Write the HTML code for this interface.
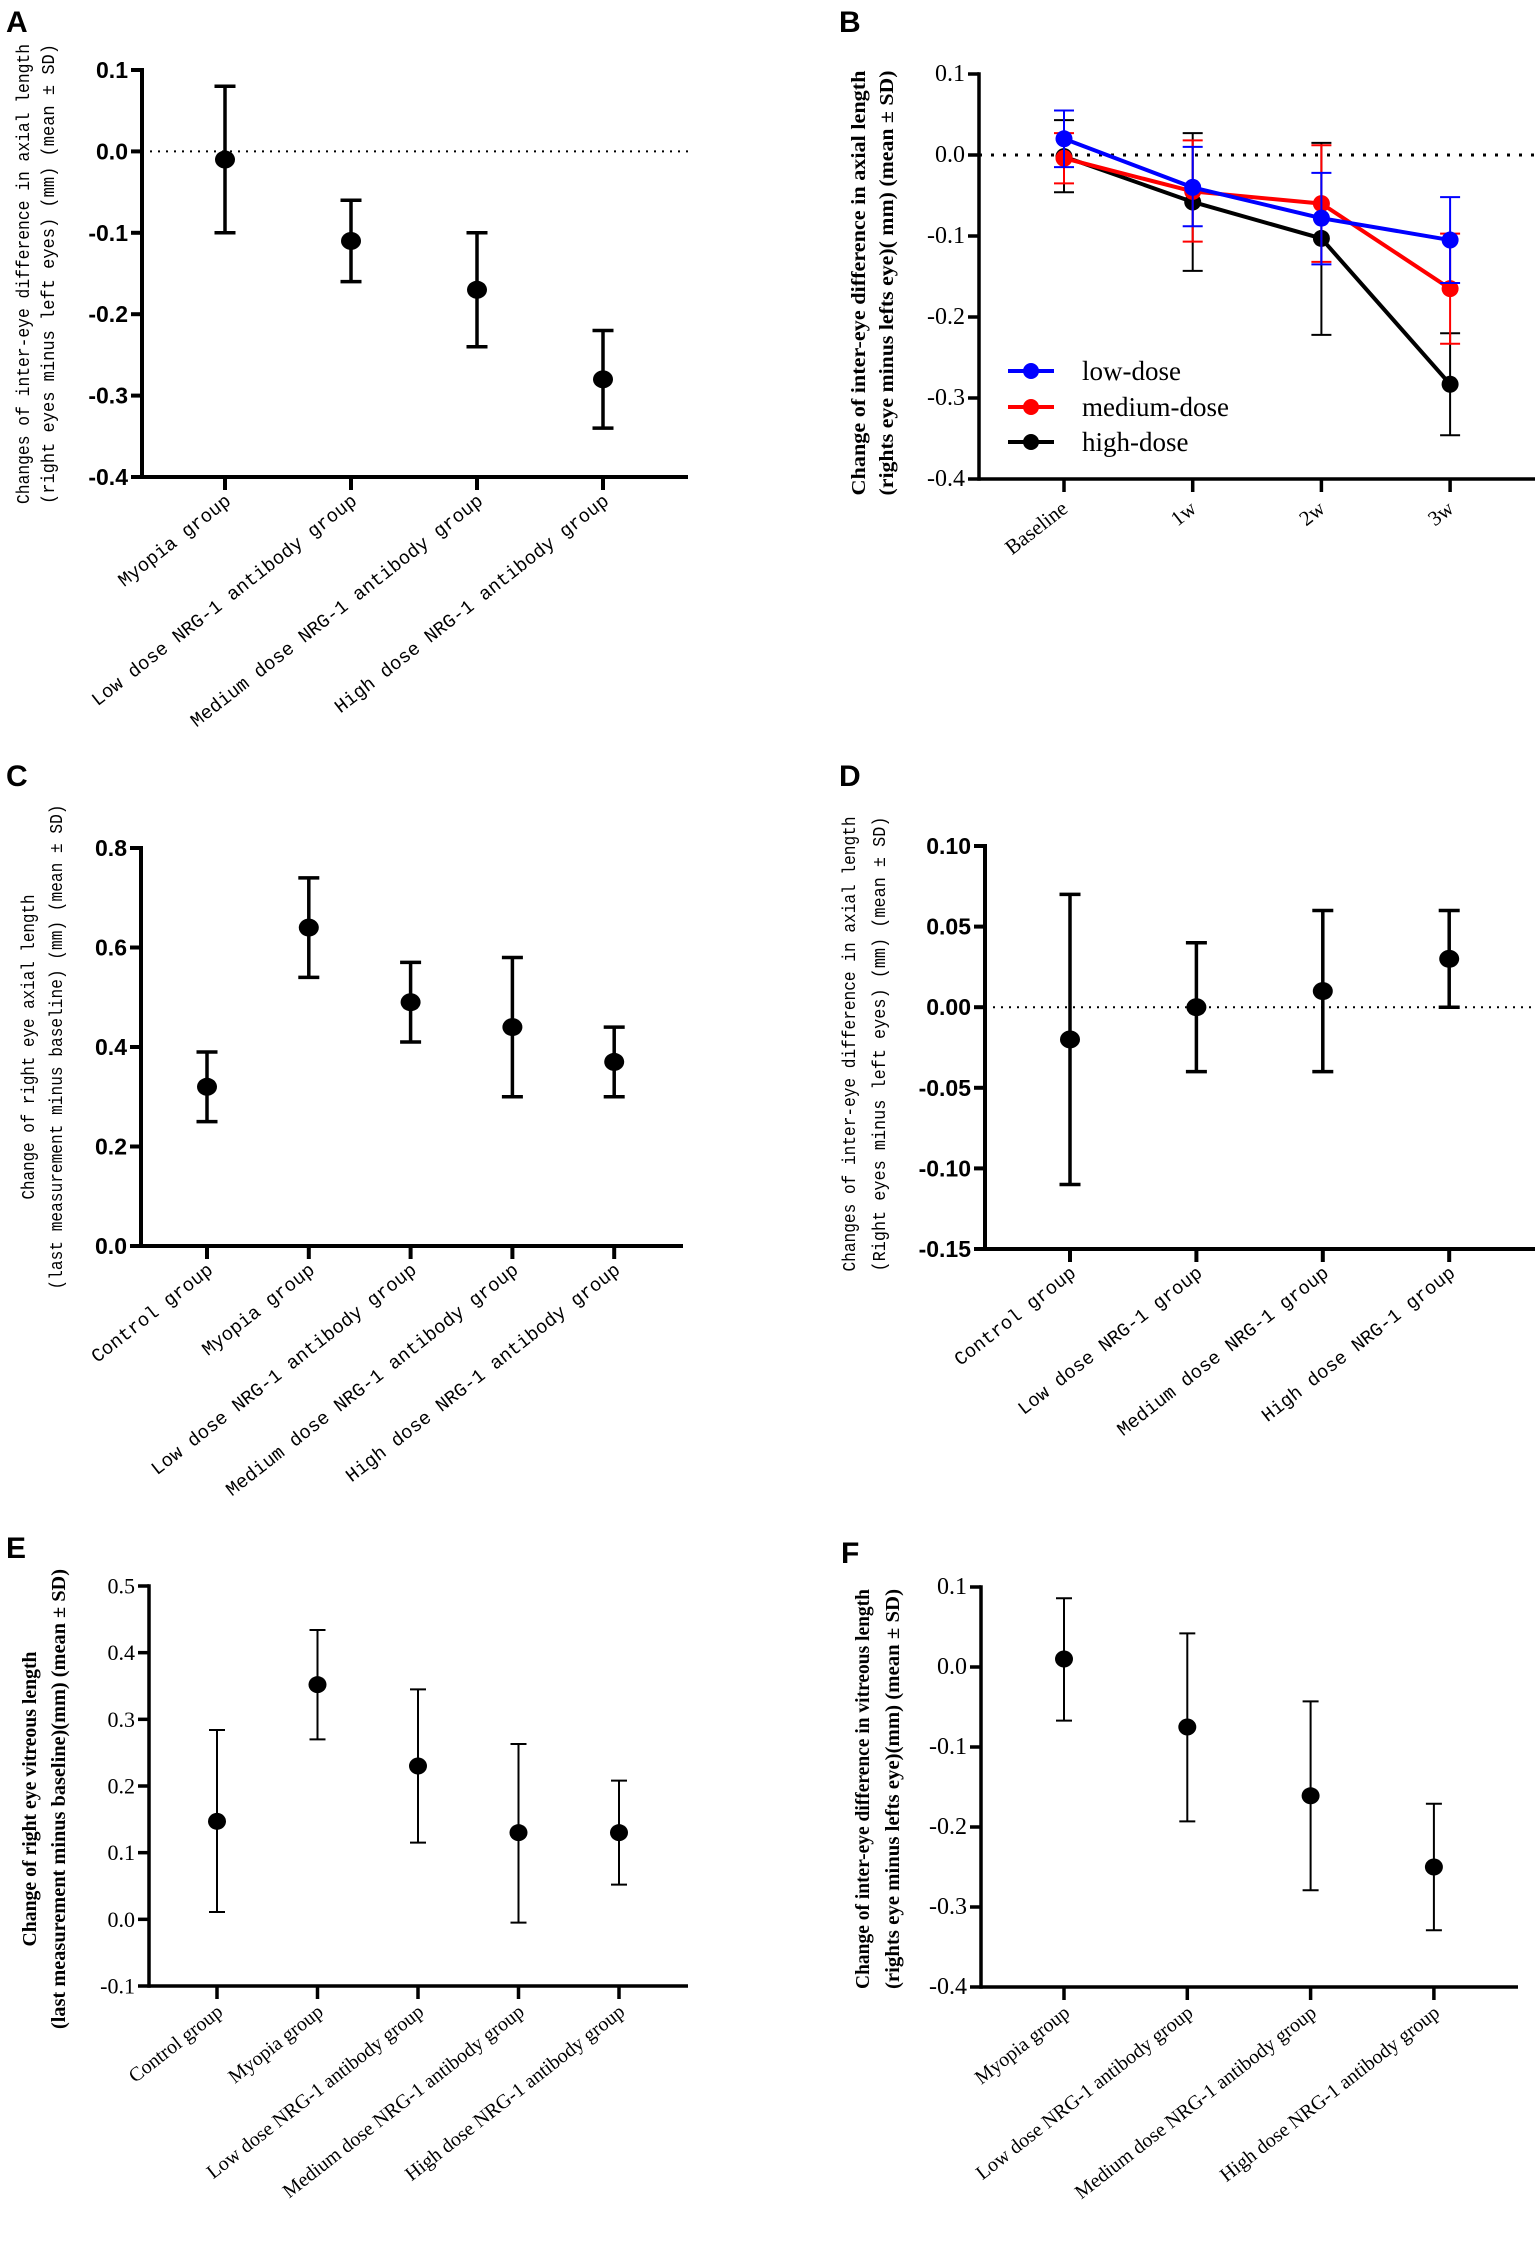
<!DOCTYPE html>
<html><head><meta charset="utf-8"><style>
html,body{margin:0;padding:0;background:#fff}
svg{display:block}
</style></head><body>
<svg id="fig" width="1535" height="2241" viewBox="0 0 1535 2241" xmlns="http://www.w3.org/2000/svg">
<rect width="1535" height="2241" fill="#fff"/>
</svg>
<script>
// Panel A
const catsA = ["Myopia group","Low dose NRG-1 antibody group","Medium dose NRG-1 antibody group","High dose NRG-1 antibody group"];
const meanA = [-0.01,-0.11,-0.17,-0.28];
const hiA = [0.08,-0.06,-0.10,-0.22];
const loA = [-0.10,-0.16,-0.24,-0.34];
const ticksA = ["0.1","0.0","-0.1","-0.2","-0.3","-0.4"];
// Panel B
const catsB = ["Baseline","1w","2w","3w"];
const seriesNamesB = ["low-dose","medium-dose","high-dose"];
const lowMeanB = [0.02,-0.04,-0.078,-0.105];
const lowHiB = [0.055,0.01,-0.022,-0.052];
const lowLoB = [-0.015,-0.088,-0.135,-0.158];
const medMeanB = [-0.004,-0.045,-0.06,-0.165];
const medHiB = [0.027,0.018,0.012,-0.097];
const medLoB = [-0.035,-0.107,-0.132,-0.233];
const highMeanB = [-0.002,-0.058,-0.103,-0.283];
const highHiB = [0.043,0.027,0.015,-0.22];
const highLoB = [-0.046,-0.143,-0.222,-0.346];
const ticksB = ["0.1","0.0","-0.1","-0.2","-0.3","-0.4"];
// Panel C
const catsC = ["Control group","Myopia group","Low dose NRG-1 antibody group","Medium dose NRG-1 antibody group","High dose NRG-1 antibody group"];
const meanC = [0.32,0.64,0.49,0.44,0.37];
const hiC = [0.39,0.74,0.57,0.58,0.44];
const loC = [0.25,0.54,0.41,0.30,0.30];
const ticksC = ["0.8","0.6","0.4","0.2","0.0"];
// Panel D
const catsD = ["Control group","Low dose NRG-1 group","Medium dose NRG-1 group","High dose NRG-1 group"];
const meanD = [-0.02,0.0,0.01,0.03];
const hiD = [0.07,0.04,0.06,0.06];
const loD = [-0.11,-0.04,-0.04,0.0];
const ticksD = ["0.10","0.05","0.00","-0.05","-0.10","-0.15"];
// Panel E
const catsE = ["Control group","Myopia group","Low dose NRG-1 antibody group","Medium dose NRG-1 antibody group","High dose NRG-1 antibody group"];
const meanE = [0.147,0.352,0.23,0.13,0.13];
const hiE = [0.284,0.434,0.345,0.263,0.208];
const loE = [0.011,0.270,0.115,-0.005,0.052];
const ticksE = ["0.5","0.4","0.3","0.2","0.1","0.0","-0.1"];
// Panel F
const catsF = ["Myopia group","Low dose NRG-1 antibody group","Medium dose NRG-1 antibody group","High dose NRG-1 antibody group"];
const meanF = [0.01,-0.075,-0.161,-0.25];
const hiF = [0.086,0.042,-0.043,-0.171];
const loF = [-0.067,-0.193,-0.279,-0.329];
const ticksF = ["0.1","0.0","-0.1","-0.2","-0.3","-0.4"];

const svg = document.getElementById('fig');
const NS = 'http://www.w3.org/2000/svg';
const ANG = -38;
function mk(tag, attrs, parent){
  const e = document.createElementNS(NS, tag);
  for (const k in attrs) e.setAttribute(k, attrs[k]);
  (parent||svg).appendChild(e);
  return e;
}
function txt(s, attrs, parent){ const t = mk('text', attrs, parent); t.textContent = s; return t; }

function panel(cfg){
  const g = mk('g', {});
  
  
  const tickVals = cfg.ticks.map(Number);
  const vmax = tickVals[0], vmin = tickVals[tickVals.length-1];
  const y = v => cfg.yTop + (vmax - v) / (vmax - vmin) * (cfg.yBot - cfg.yTop);
  const x = i => cfg.xs0 + i * cfg.xstep;
  const lbl = txt(cfg.letter, {x:cfg.letterX, y:cfg.letterY, 'font-family':'Liberation Sans, sans-serif','font-weight':'bold','font-size':30}, g);
  
  
  if (cfg.zeroEnd){
    const zl = mk('line', {x1:cfg.ax, x2:cfg.zeroEnd, y1:y(0), y2:y(0), stroke:'#000','stroke-width':cfg.dotW,'stroke-dasharray':cfg.dotDash}, g);
    
    
  }
  const ya = mk('line', {x1:cfg.ax, x2:cfg.ax, y1:cfg.yTop - cfg.axW/2, y2:cfg.yBot + cfg.axW/2, stroke:'#000','stroke-width':cfg.axW}, g);
  
  
  const xa = mk('line', {x1:cfg.ax, x2:cfg.xEnd, y1:cfg.yBot, y2:cfg.yBot, stroke:'#000','stroke-width':cfg.axW}, g);
  
  
  cfg.ticks.forEach((t, i) => {
    const yy = y(tickVals[i]);
    mk('line', {x1:cfg.ax - 11, x2:cfg.ax, y1:yy, y2:yy, stroke:'#000','stroke-width':cfg.axW}, g);
    const tl = txt(t, {x:cfg.ax - 14, y:yy, 'text-anchor':'end','dominant-baseline':'central','font-family':cfg.tickFont,'font-weight':cfg.tickWeight,'font-size':cfg.tickSize}, g);
    
    
  });
  cfg.cats.forEach((c, i) => {
    const xx = x(i);
    mk('line', {x1:xx, x2:xx, y1:cfg.yBot, y2:cfg.yBot + 13, stroke:'#000','stroke-width':cfg.axW}, g);
    const lx = xx + cfg.lblDx, ly = cfg.yBot + cfg.lblDy;
    const tl = txt(c, {x:lx, y:ly, 'text-anchor':'end','font-family':cfg.catFont,'font-size':cfg.catSize, transform:`rotate(${ANG} ${lx} ${ly})`}, g);
    
    
  });
  cfg.title.forEach((s, k) => {
    const tx = cfg.titleX[k], ty = cfg.titleY;
    const tt = txt(s, {x:tx, y:ty, 'text-anchor':'middle','dominant-baseline':'central','font-family':cfg.titleFont,'font-weight':cfg.titleWeight,'font-size':cfg.titleSize, textLength:cfg.titleLen[k], lengthAdjust:'spacingAndGlyphs', transform:`rotate(-90 ${tx} ${ty})`}, g);
    
    
  });
  cfg.series.forEach(s => {
    const sg = mk('g', {}, g);
    
    
    if (s.line){
      const pts = s.mean.map((m, i) => x(i) + ',' + y(m)).join(' ');
      const pl = mk('polyline', {points:pts, fill:'none', stroke:s.color, 'stroke-width':4}, sg);
      
      
    }
    s.mean.forEach((m, i) => {
      const xx = x(i);
      const eb = mk('path', {d:`M${xx},${y(s.hi[i])}V${y(s.lo[i])}M${xx-cfg.capW},${y(s.hi[i])}H${xx+cfg.capW}M${xx-cfg.capW},${y(s.lo[i])}H${xx+cfg.capW}`, stroke:s.color,'stroke-width':cfg.ebW, fill:'none'}, sg);
      
      
      const pt = mk('ellipse', {cx:xx, cy:y(m), rx:cfg.rx, ry:cfg.ry, fill:s.color}, sg);
      
      
    });
  });
  if (cfg.legend){
    cfg.legend.forEach((L, k) => {
      const lg = mk('g', {}, g);
      
      
      const ly = cfg.legendY[k];
      mk('line', {x1:1008, x2:1054, y1:ly, y2:ly, stroke:L.color,'stroke-width':4}, lg);
      mk('circle', {cx:1031, cy:ly, r:8, fill:L.color}, lg);
      txt(L.name, {x:1082, y:ly, 'dominant-baseline':'central','font-family':'Liberation Serif, serif','font-size':27}, lg);
    });
  }
}

const MONO = '"Liberation Mono", monospace';
const SANS = '"Liberation Sans", sans-serif';
const SERIF = '"Liberation Serif", serif';

panel({name:'panel-a', letter:'A', letterX:6, letterY:32, ax:142, xEnd:688, yTop:70, yBot:477, ticks:ticksA, cats:catsA, xs0:225, xstep:126,
  zeroEnd:688, dotW:2, dotDash:'2 6', axW:4, tickFont:SANS, tickWeight:'bold', tickSize:23, catFont:MONO, catSize:19, lblDx:7, lblDy:26,
  title:['Changes of inter-eye difference in axial length','(right eyes minus left eyes) (mm) (mean ± SD)'], titleX:[25,50], titleY:274, titleLen:[460,460],
  titleFont:MONO, titleWeight:'normal', titleSize:18, capW:10.5, ebW:3.5, rx:10, ry:9,
  series:[{name:'groups', color:'#000', mean:meanA, hi:hiA, lo:loA}]});

panel({name:'panel-b', letter:'B', letterX:839, letterY:32, ax:979, xEnd:1537, yTop:74, yBot:479, ticks:ticksB, cats:catsB, xs0:1064, xstep:128.7,
  zeroEnd:1535, dotW:3, dotDash:'3 9', axW:3.5, tickFont:SERIF, tickWeight:'normal', tickSize:24, catFont:SERIF, catSize:21, lblDx:5, lblDy:32,
  title:['Change of inter-eye difference in axial length','(rights eye minus lefts eye)( mm) (mean ± SD)'], titleX:[859,887], titleY:283, titleLen:[425,425],
  titleFont:SERIF, titleWeight:'bold', titleSize:20, capW:10, ebW:2, rx:8.5, ry:8.5,
  series:[
    {name:'high-dose', color:'#000', mean:highMeanB, hi:highHiB, lo:highLoB, line:true},
    {name:'medium-dose', color:'#f00', mean:medMeanB, hi:medHiB, lo:medLoB, line:true},
    {name:'low-dose', color:'#00f', mean:lowMeanB, hi:lowHiB, lo:lowLoB, line:true}],
  legend:[{name:seriesNamesB[0], color:'#00f'},{name:seriesNamesB[1], color:'#f00'},{name:seriesNamesB[2], color:'#000'}], legendY:[371,407,442]});

panel({name:'panel-c', letter:'C', letterX:6, letterY:786, ax:141, xEnd:683, yTop:848, yBot:1246, ticks:ticksC, cats:catsC, xs0:207, xstep:101.8,
  zeroEnd:null, axW:4, tickFont:SANS, tickWeight:'bold', tickSize:23, catFont:MONO, catSize:19, lblDx:7, lblDy:26,
  title:['Change of right eye axial length','(last measurement minus baseline) (mm) (mean ± SD)'], titleX:[30,58], titleY:1047, titleLen:[305,485],
  titleFont:MONO, titleWeight:'normal', titleSize:18, capW:10.5, ebW:3.5, rx:10, ry:9,
  series:[{name:'groups', color:'#000', mean:meanC, hi:hiC, lo:loC}]});

panel({name:'panel-d', letter:'D', letterX:839, letterY:786, ax:985, xEnd:1537, yTop:846, yBot:1249, ticks:ticksD, cats:catsD, xs0:1070, xstep:126.4,
  zeroEnd:1535, dotW:2, dotDash:'2 6', axW:4, tickFont:SANS, tickWeight:'bold', tickSize:23, catFont:MONO, catSize:19, lblDx:7, lblDy:26,
  title:['Changes of inter-eye difference in axial length','(Right eyes minus left eyes) (mm) (mean ± SD)'], titleX:[851,881], titleY:1044, titleLen:[455,455],
  titleFont:MONO, titleWeight:'normal', titleSize:18, capW:10.5, ebW:3.5, rx:10, ry:9,
  series:[{name:'groups', color:'#000', mean:meanD, hi:hiD, lo:loD}]});

panel({name:'panel-e', letter:'E', letterX:6, letterY:1558, ax:149, xEnd:688, yTop:1586, yBot:1986, ticks:ticksE, cats:catsE, xs0:217, xstep:100.5,
  zeroEnd:null, axW:3.5, tickFont:SERIF, tickWeight:'normal', tickSize:22, catFont:SERIF, catSize:20, lblDx:7, lblDy:28,
  title:['Change of right eye vitreous length','(last measurement minus baseline)(mm) (mean ± SD)'], titleX:[30,59], titleY:1799, titleLen:[295,460],
  titleFont:SERIF, titleWeight:'bold', titleSize:20, capW:8, ebW:2, rx:9, ry:8.5,
  series:[{name:'groups', color:'#000', mean:meanE, hi:hiE, lo:loE}]});

panel({name:'panel-f', letter:'F', letterX:841, letterY:1563, ax:981, xEnd:1518, yTop:1587, yBot:1987, ticks:ticksF, cats:catsF, xs0:1064, xstep:123.3,
  zeroEnd:null, axW:3.5, tickFont:SERIF, tickWeight:'normal', tickSize:24, catFont:SERIF, catSize:20, lblDx:7, lblDy:28,
  title:['Change of inter-eye difference in vitreous length','(rights eye minus lefts eye)(mm) (mean ± SD)'], titleX:[863,893], titleY:1789, titleLen:[400,400],
  titleFont:SERIF, titleWeight:'bold', titleSize:20, capW:8, ebW:2, rx:9, ry:8.5,
  series:[{name:'groups', color:'#000', mean:meanF, hi:hiF, lo:loF}]});
</script>
</body></html>
